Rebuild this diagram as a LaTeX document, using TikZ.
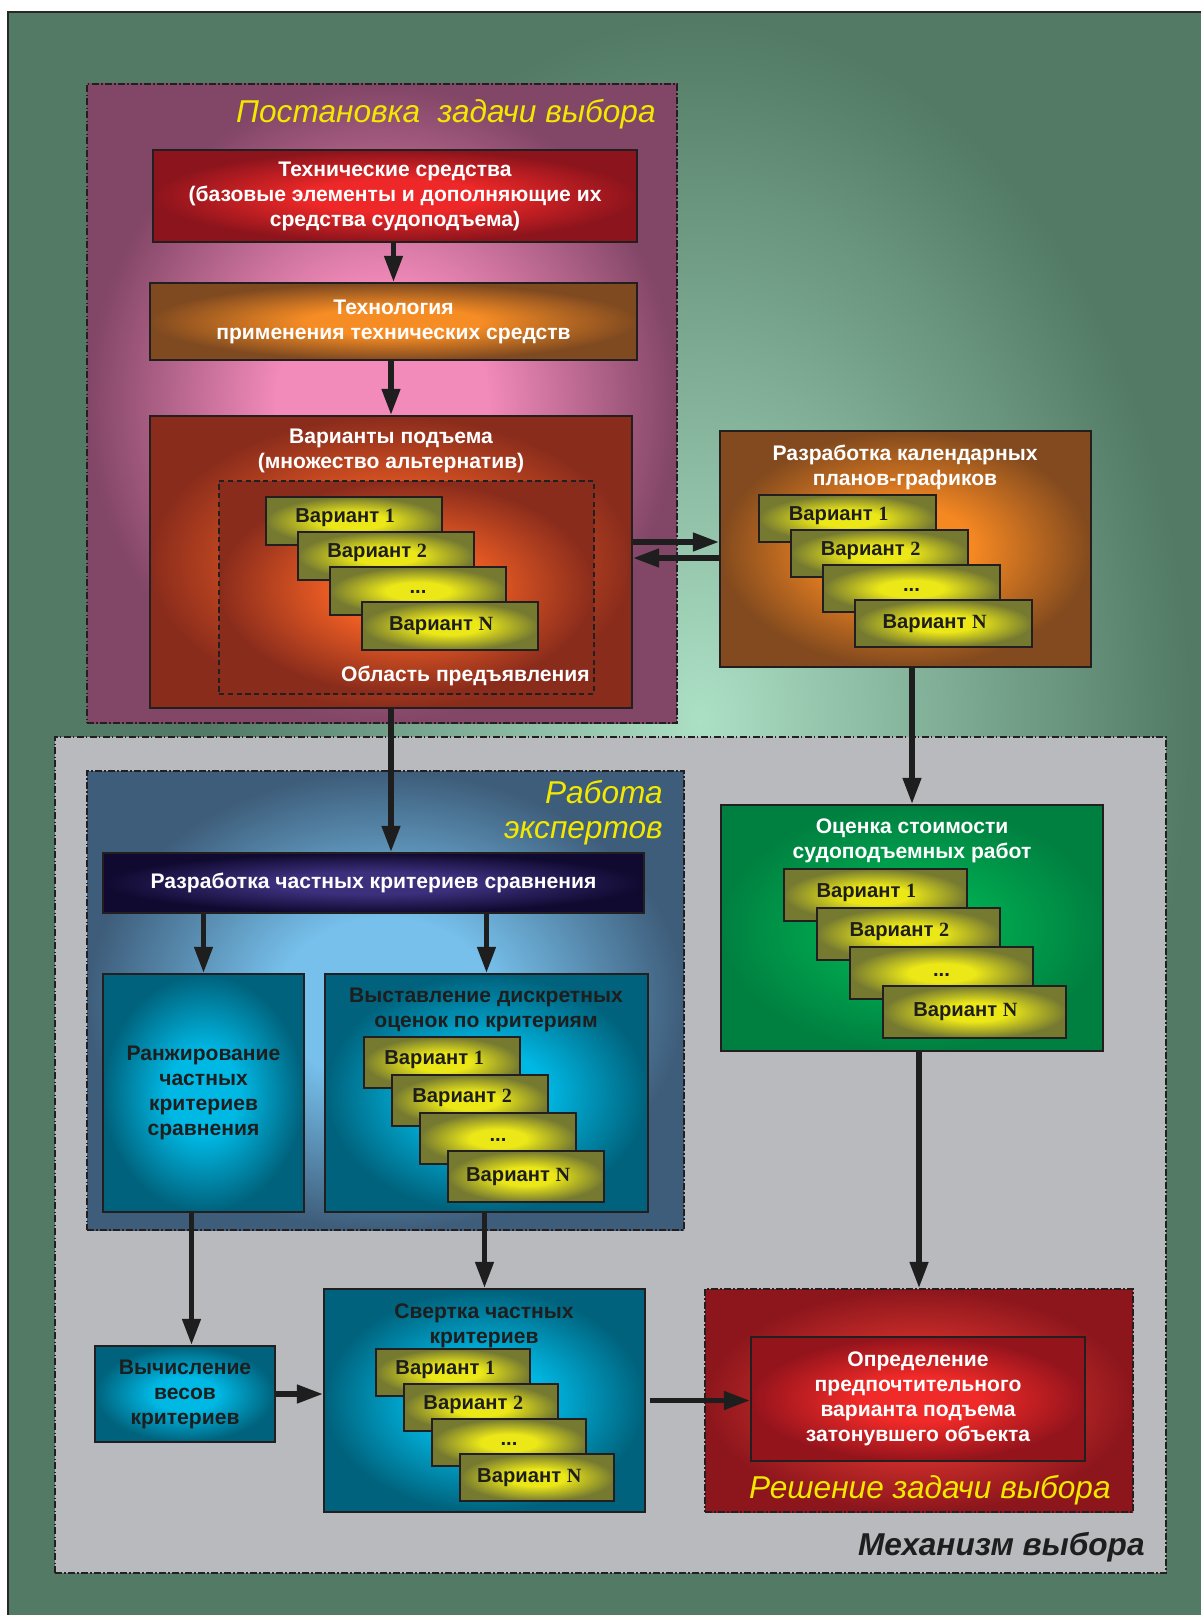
\documentclass[tikz,border=0pt]{standalone}
\usepackage{fontspec}
\setmainfont{Liberation Sans}
\newfontfamily\numfont{Liberation Serif}
\usetikzlibrary{arrows.meta,calc}

\definecolor{bggreen}{RGB}{82,122,101}
\definecolor{mint}{RGB}{172,224,197}
\definecolor{framedark}{RGB}{40,40,40}
\definecolor{edge}{RGB}{35,31,32}
\definecolor{textdark}{RGB}{30,30,30}
\definecolor{titleyellow}{RGB}{242,232,0}
\definecolor{postin}{RGB}{242,138,186}
\definecolor{postout}{RGB}{130,70,102}
\definecolor{mechgray}{RGB}{185,186,190}
\definecolor{expin}{RGB}{118,192,235}
\definecolor{expout}{RGB}{62,93,122}
\definecolor{reshin}{RGB}{222,52,46}
\definecolor{reshout}{RGB}{140,22,28}
\definecolor{techin}{RGB}{238,40,40}
\definecolor{techout}{RGB}{140,20,28}
\definecolor{technoin}{RGB}{246,140,36}
\definecolor{technoout}{RGB}{128,74,32}
\definecolor{varin}{RGB}{242,96,36}
\definecolor{varout}{RGB}{138,44,28}
\definecolor{planin}{RGB}{246,136,34}
\definecolor{planout}{RGB}{130,74,30}
\definecolor{cardin}{RGB}{236,232,24}
\definecolor{cardout}{RGB}{118,122,48}
\definecolor{critin}{RGB}{60,48,125}
\definecolor{critout}{RGB}{16,10,48}
\definecolor{tealin}{RGB}{0,184,228}
\definecolor{tealout}{RGB}{0,98,124}
\definecolor{costin}{RGB}{0,170,80}
\definecolor{costout}{RGB}{0,128,64}
\definecolor{bestin}{RGB}{240,42,40}
\definecolor{bestout}{RGB}{148,20,28}

\def\pu{0.02cm}

% bright centre, darker rim
\colorlet{glowin}{white}
\colorlet{glowout}{black}
\pgfdeclareradialshading[glowin,glowout]{glow}{\pgfpoint{0bp}{0bp}}{color(0bp)=(glowin); color(9bp)=(glowin); color(25bp)=(glowout); color(50bp)=(glowout)}
\tikzset{glow/.style 2 args={shade, shading=glow, /utils/exec={\colorlet{glowin}{#1}\colorlet{glowout}{#2}}}}

\tikzstyle{group} = [rectangle, draw=edge, line width=0.8pt, dash pattern=on 4pt off 1.3pt on 0.8pt off 1.3pt, inner sep=0pt]
\tikzstyle{box} = [rectangle, draw=edge, line width=0.9pt, inner sep=0pt, align=center, text=white, font=\bfseries\fontsize{12}{14.2}\selectfont]
\tikzstyle{head} = [inner sep=0pt, align=center, text=white, font=\bfseries\fontsize{12}{14.2}\selectfont]
\tikzstyle{card} = [rectangle, draw=edge, line width=0.9pt, glow={cardin}{cardout}, inner sep=0pt]
\tikzstyle{cardtext} = [inner sep=0pt, text=textdark, font=\bfseries\fontsize{11.5}{13}\selectfont]
\tikzstyle{title} = [inner sep=0pt, anchor=east, align=right, text=titleyellow, font=\itshape\fontsize{18}{20}\selectfont]
\tikzstyle{arrow} = [draw=textdark, line width=3.2pt, -{Triangle[length=15pt,width=10pt]}]

% stack of four variant cards: name, left, top, width, height, step x, step y
\newcommand{\cardstack}[7]{%
  \node[card, minimum width=#4*\pu, minimum height=#5*\pu] (#1a) at ({#2+#4/2},{#3+#5/2}) {};
  \node[cardtext] (#1at) at ({#2+0.45*#4},{#3+0.6*#7}) {Вариант {\numfont 1}};
  \node[card, minimum width=#4*\pu, minimum height=#5*\pu] (#1b) at ({#2+#6+#4/2},{#3+#7+#5/2}) {};
  \node[cardtext] (#1bt) at ({#2+#6+0.45*#4},{#3+1.6*#7}) {Вариант {\numfont 2}};
  \node[card, minimum width=#4*\pu, minimum height=#5*\pu] (#1c) at ({#2+2*#6+#4/2},{#3+2*#7+#5/2}) {};
  \node[cardtext] (#1ct) at ({#2+2*#6+0.5*#4},{#3+2.72*#7}) {...};
  \node[card, minimum width=#4*\pu, minimum height=#5*\pu] (#1d) at ({#2+3*#6+#4/2},{#3+3*#7+#5/2}) {};
  \node[cardtext] (#1dt) at ({#2+3*#6+0.45*#4},{#3+3*#7+#5/2}) {Вариант {\numfont N}};
}

\begin{document}
\begin{tikzpicture}[x=\pu, y=-\pu]
% background and frame
\useasboundingbox (0,0) rectangle (1200,1615);
\fill[white] (0,0) rectangle (1200,1615);
\fill[bggreen] (8,12) rectangle (1215,1630);
\begin{scope}
  \clip (8,12) rectangle (1215,1630);
  \shade[inner color=mint, outer color=bggreen] (700,720) ellipse (490 and 700);
\end{scope}
\draw[framedark, line width=1.2pt] (8,1630) -- (8,12) -- (1215,12);

% groups
\node[group, fill=mechgray, minimum width=1111*\pu, minimum height=836*\pu] (mech) at (610.5,1155) {};
\node[group, glow={postin}{postout}, minimum width=590*\pu, minimum height=639*\pu] (post) at (382,403.5) {};
\node[group, glow={expin}{expout}, minimum width=597*\pu, minimum height=459*\pu] (expert) at (385.5,1000.5) {};
\node[group, glow={reshin}{reshout}, minimum width=428*\pu, minimum height=223*\pu] (resh) at (919,1400.5) {};

\node[title] (posttitle) at (656,114) {Постановка\ \ задачи выбора};
\node[title] (experttitle) at (663,813) {Работа\\экспертов};
\node[title] (reshtitle) at (1111,1490) {Решение задачи выбора};
\node[title, text=textdark, font=\bfseries\itshape\fontsize{18}{20}\selectfont] (mechtitle) at (1145,1547) {Механизм выбора};

% upper part
\node[box, glow={techin}{techout}, minimum width=484*\pu, minimum height=92*\pu] (tech) at (395,196) {Технические средства\\(базовые элементы и дополняющие их\\средства судоподъема)};
\node[box, glow={technoin}{technoout}, minimum width=487*\pu, minimum height=77*\pu] (techno) at (393.5,321.5) {Технология\\применения технических средств};
\node[box, glow={varin}{varout}, minimum width=482*\pu, minimum height=292*\pu] (var) at (391,562) {};
\node[head] (varhead) at (391,451) {Варианты подъема\\(множество альтернатив)};
\node[rectangle, draw=edge, line width=0.8pt, dash pattern=on 3pt off 2pt, glow={varin}{varout}, minimum width=375*\pu, minimum height=213*\pu] (area) at (406.5,587.5) {};
\cardstack{va}{266}{497}{176}{48}{32}{35}
\node[head, anchor=east] (areahead) at (590,676) {Область предъявления};

\node[box, glow={planin}{planout}, minimum width=371*\pu, minimum height=236*\pu] (plan) at (905.5,549) {};
\node[head] (planhead) at (905,467) {Разработка календарных\\планов-графиков};
\cardstack{pa}{759}{495}{177}{47}{32}{35}

% lower part
\node[box, glow={critin}{critout}, minimum width=541*\pu, minimum height=60*\pu] (crit) at (373.5,883) {Разработка частных критериев сравнения};
\node[box, text=textdark, glow={tealin}{tealout}, minimum width=201*\pu, minimum height=238*\pu] (rank) at (203.5,1093) {Ранжирование\\частных\\критериев\\сравнения};
\node[box, glow={tealin}{tealout}, minimum width=323*\pu, minimum height=238*\pu] (score) at (486.5,1093) {};
\node[head, text=textdark] (scorehead) at (486,1010) {Выставление дискретных\\оценок по критериям};
\cardstack{sa}{364}{1037}{156}{51}{28}{38}

\node[box, glow={costin}{costout}, minimum width=382*\pu, minimum height=246*\pu] (cost) at (912,928) {};
\node[head] (costhead) at (912,841) {Оценка стоимости\\судоподъемных работ};
\cardstack{ca}{784}{869}{183}{52}{33}{39}

\node[box, text=textdark, glow={tealin}{tealout}, minimum width=180*\pu, minimum height=96*\pu] (calc) at (185,1394) {Вычисление\\весов\\критериев};
\node[box, glow={tealin}{tealout}, minimum width=321*\pu, minimum height=223*\pu] (conv) at (484.5,1400.5) {};
\node[head, text=textdark] (convhead) at (484,1326) {Свертка частных\\критериев};
\cardstack{cv}{376}{1349}{154}{47}{28}{35}

\node[box, glow={bestin}{bestout}, minimum width=334*\pu, minimum height=124*\pu] (best) at (918,1399) {Определение\\предпочтительного\\варианта подъема\\затонувшего объекта};

% connectors
\draw[arrow] (tech.south -| techno.north) -- (techno.north);
\draw[arrow] (techno.south -| var.north) -- (var.north);
\draw[arrow] ($(var.east)+(0,-20)$) -- ($(var.east -| plan.west)+(0,-20)$);
\draw[arrow] ($(plan.west |- var.east)+(0,-4)$) -- ($(var.east)+(0,-4)$);
\draw[arrow] (var.south) -- (var.south |- crit.north);
\draw[arrow] (plan.south -| cost.north) -- (cost.north);
\draw[arrow] (crit.south -| rank.north) -- (rank.north);
\draw[arrow] (crit.south -| score.north) -- (score.north);
\draw[arrow] ($(rank.south)+(-12,0)$) -- ($(rank.south |- calc.north)+(-12,0)$);
\draw[arrow] (score.south -| conv.north) -- (conv.north);
\draw[arrow] (cost.south -| resh.north) -- (resh.north);
\draw[arrow] (calc.east) -- (calc.east -| conv.west);
\draw[arrow] ($(conv.east)+(4,0)$) -- (conv.east -| best.west);

\end{tikzpicture}
\end{document}
